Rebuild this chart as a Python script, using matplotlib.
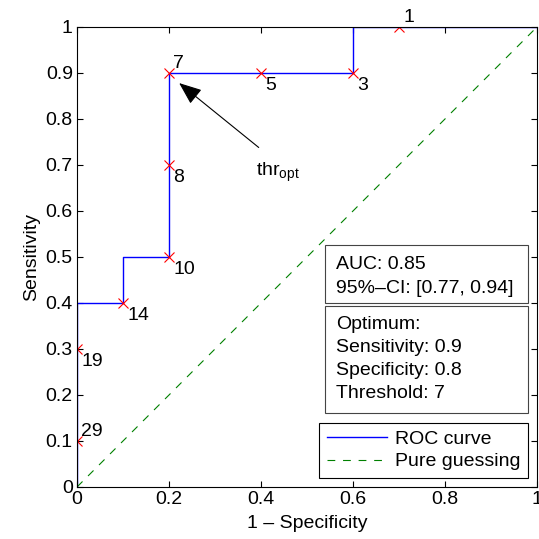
import matplotlib
matplotlib.use('Agg')
import matplotlib.pyplot as plt
from matplotlib.patches import Rectangle

plt.rcParams['font.family'] = ['Liberation Sans', 'DejaVu Sans']
plt.rcParams['font.size'] = 14

# ROC curve data
fpr = [0, 0, 0, 0, 0.1, 0.1, 0.2, 0.2, 0.2, 0.4, 0.6, 0.6, 0.7, 1]
tpr = [0, 0.1, 0.3, 0.4, 0.4, 0.5, 0.5, 0.7, 0.9, 0.9, 0.9, 1, 1, 1]

# threshold points
thrX = [0, 0, 0.1, 0.2, 0.2, 0.2, 0.4, 0.6, 0.7]
thrY = [0.1, 0.3, 0.4, 0.5, 0.7, 0.9, 0.9, 0.9, 1]
thrLabels = ['29', '19', '14', '10', '8', '7', '5', '3', '1']
above = ['29', '7', '1']

guessX = [0, 1]
guessY = [0, 1]

aucLines = ['AUC: 0.85', '95%\u2013CI: [0.77, 0.94]']
optLines = ['Optimum:', 'Sensitivity: 0.9', 'Specificity: 0.8', 'Threshold: 7']

yticks = [0, 0.1, 0.2, 0.3, 0.4, 0.5, 0.6, 0.7, 0.8, 0.9, 1]
ytickLabels = ['0', '0.1', '0.2', '0.3', '0.4', '0.5', '0.6', '0.7', '0.8', '0.9', '1']
xticks = [0, 0.2, 0.4, 0.6, 0.8, 1]
xtickLabels = ['0', '0.2', '0.4', '0.6', '0.8', '1']

fig = plt.figure(figsize=(5.39, 5.39), dpi=100)
ax = fig.add_axes([0.1429, 0.0965, 0.8534, 0.8535])

ax.plot(fpr, tpr, color='#0000ff', linewidth=1.0, label='ROC curve')
ax.plot(guessX, guessY, '--', color='#008000', linewidth=0.8, dashes=(7, 7), label='Pure guessing')
ax.plot(thrX, thrY, 'x', color='r', markersize=6.5, markeredgewidth=0.8)

for i in range(len(thrLabels)):
    if thrLabels[i] in above:
        ax.annotate(thrLabels[i], (thrX[i], thrY[i]), xytext=(3, 1),
                    textcoords='offset points', ha='left', va='bottom', fontsize=14)
    else:
        ax.annotate(thrLabels[i], (thrX[i], thrY[i]), xytext=(3, -3),
                    textcoords='offset points', ha='left', va='top', fontsize=14)

# arrow to optimum
ax.annotate('', xy=(0.222, 0.878), xytext=(0.395, 0.738),
            arrowprops=dict(arrowstyle='-|>,head_length=1.0,head_width=0.4',
                            color='k', linewidth=0.8, shrinkA=0, shrinkB=0))
ax.text(0.39, 0.71, r'thr$_{\mathregular{opt}}$', ha='left', va='top', fontsize=14)

# info boxes
ax.add_patch(Rectangle((0.539, 0.400), 0.441, 0.126, facecolor='white',
                       edgecolor='#444444', linewidth=0.8, zorder=3))
ax.add_patch(Rectangle((0.539, 0.161), 0.441, 0.232, facecolor='white',
                       edgecolor='#444444', linewidth=0.8, zorder=3))
aucY = [0.474, 0.4217]
optY = [0.3435, 0.2935, 0.2435, 0.1935]
for i in range(len(aucLines)):
    ax.text(0.563, aucY[i], aucLines[i], ha='left', va='baseline', zorder=4)
for i in range(len(optLines)):
    ax.text(0.563, optY[i], optLines[i], ha='left', va='baseline', zorder=4)

leg = ax.legend(loc='lower right', fancybox=False, framealpha=1, edgecolor='k',
                borderaxespad=0.45, handlelength=3.1, fontsize=14,
                borderpad=0.4, labelspacing=0.25, handletextpad=0.4)
leg.get_frame().set_linewidth(0.8)

ax.set_xlim(0, 1)
ax.set_ylim(0, 1)
ax.set_xticks(xticks)
ax.set_xticklabels(xtickLabels)
ax.set_yticks(yticks)
ax.set_yticklabels(ytickLabels)
ax.tick_params(direction='in', length=4, top=True, right=True, labelsize=14, pad=3)
for s in ax.spines.values():
    s.set_linewidth(0.8)
ax.set_xlabel('1 \u2013 Specificity', fontsize=14, labelpad=5)
ax.set_ylabel('Sensitivity', fontsize=14, labelpad=4)

fig.savefig('out.png', dpi=100)
